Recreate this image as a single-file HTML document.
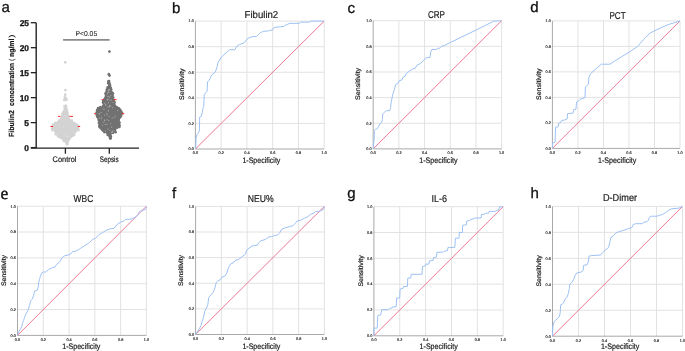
<!DOCTYPE html>
<html><head><meta charset="utf-8"><style>
html,body{margin:0;padding:0;background:#fff;width:685px;height:351px;overflow:hidden}
.t{fill:#1a1a1a;stroke:#1a1a1a;stroke-width:0.2px}
.t2{fill:#2a2a2a;stroke:#2a2a2a;stroke-width:0.08px}
svg{display:block;transform:translateZ(0);text-rendering:geometricPrecision;font-family:"Liberation Sans", sans-serif}
</style></head><body>
<svg width="685" height="351" viewBox="0 0 685 351" font-family='"Liberation Sans", sans-serif'><path d="M221.16 21.1V149M195.4 123.42H324.2M246.92 21.1V149M195.4 97.84H324.2M272.68 21.1V149M195.4 72.26H324.2M298.44 21.1V149M195.4 46.68H324.2M324.2 21.1V149M195.4 21.1H324.2" stroke="#e2e2e2" stroke-width="1" fill="none"/>
<path d="M195.4 21.1V149H324.2" stroke="#a9a9a9" stroke-width="1" fill="none"/>
<path d="M195.4 149L324.2 21.1" stroke="#ee7895" stroke-width="1" fill="none"/>
<path d="M195.7 149 L196.1 138.4 L196.8 134.9 L198 133.4 L199 132 L199.4 129.9 L199.7 117 L200.8 116.4 L201.4 116.4 L201.8 114.2 L202.3 112.1 L202.8 110 L203.2 107.8 L203.7 106.4 L204 100 L204.2 94.8 L205.4 93.1 L207.1 91.3 L207.5 82 L208.9 80.6 L210.4 77.8 L211.8 74.9 L215.3 72.1 L216.8 67.8 L218.2 62.1 L219.6 60 L221 57.6 L223 55.5 L227.2 51.8 L229.7 49.7 L234.9 49.7 L236.8 46.3 L239.4 44.6 L243.8 43.1 L247 39.2 L248.3 38.2 L252.2 36.7 L256.7 36.4 L260.5 32.6 L263.7 31.3 L268.5 30.9 L269.8 30.3 L272.4 30.1 L274.2 27.4 L280.3 26.8 L283.8 26.4 L285.6 25.1 L287.8 24.2 L290 23.3 L299.6 23.3 L300.9 22.2 L310.1 22 L311 21.1 L324.2 21.1" stroke="#9dc1f4" stroke-width="1" fill="none" stroke-linejoin="round"/>
<text x="193.8" y="150.3" font-size="3.8" text-anchor="end" fill="#333" stroke="#333" stroke-width="0.18">0.0</text>
<text x="195.4" y="154.4" font-size="3.8" text-anchor="middle" fill="#333" stroke="#333" stroke-width="0.18">0.0</text>
<text x="193.8" y="124.72" font-size="3.8" text-anchor="end" fill="#333" stroke="#333" stroke-width="0.18">0.2</text>
<text x="221.16" y="154.4" font-size="3.8" text-anchor="middle" fill="#333" stroke="#333" stroke-width="0.18">0.2</text>
<text x="193.8" y="99.14" font-size="3.8" text-anchor="end" fill="#333" stroke="#333" stroke-width="0.18">0.4</text>
<text x="246.92" y="154.4" font-size="3.8" text-anchor="middle" fill="#333" stroke="#333" stroke-width="0.18">0.4</text>
<text x="193.8" y="73.56" font-size="3.8" text-anchor="end" fill="#333" stroke="#333" stroke-width="0.18">0.6</text>
<text x="272.68" y="154.4" font-size="3.8" text-anchor="middle" fill="#333" stroke="#333" stroke-width="0.18">0.6</text>
<text x="193.8" y="47.98" font-size="3.8" text-anchor="end" fill="#333" stroke="#333" stroke-width="0.18">0.8</text>
<text x="298.44" y="154.4" font-size="3.8" text-anchor="middle" fill="#333" stroke="#333" stroke-width="0.18">0.8</text>
<text x="193.8" y="22.4" font-size="3.8" text-anchor="end" fill="#333" stroke="#333" stroke-width="0.18">1.0</text>
<text x="324.2" y="154.4" font-size="3.8" text-anchor="middle" fill="#333" stroke="#333" stroke-width="0.18">1.0</text>
<text x="244.6" y="18.2" font-size="10" textLength="33.6" lengthAdjust="spacingAndGlyphs" class="t">Fibulin2</text>
<text x="242.4" y="163.1" font-size="8" textLength="38" lengthAdjust="spacingAndGlyphs" class="t">1-Specificity</text>
<text transform="translate(184 100) rotate(-90)" font-size="6.6" textLength="31.6" lengthAdjust="spacingAndGlyphs" class="t">Sensitivity</text>
<path d="M398.88 20.7V148.9M373.2 123.26H501.6M424.56 20.7V148.9M373.2 97.62H501.6M450.24 20.7V148.9M373.2 71.98H501.6M475.92 20.7V148.9M373.2 46.34H501.6M501.6 20.7V148.9M373.2 20.7H501.6" stroke="#e2e2e2" stroke-width="1" fill="none"/>
<path d="M373.2 20.7V148.9H501.6" stroke="#a9a9a9" stroke-width="1" fill="none"/>
<path d="M373.2 148.9L501.6 20.7" stroke="#ee7895" stroke-width="1" fill="none"/>
<path d="M373.4 149 L373.7 142.4 L374.2 139.3 L374.3 130.3 L375.5 129.4 L376.9 129.2 L377.9 127.7 L379.5 125 L380.7 122.8 L381.8 122.2 L382.4 119.7 L382.8 113.8 L384.3 112.3 L386.4 110.7 L389.8 110.7 L390.6 107.5 L391.1 102.1 L391.7 99.7 L392.7 94.7 L394.4 89.6 L395.6 84.4 L397.8 83.6 L399 81 L402.1 79.7 L402.9 77.3 L405.2 76.2 L406.4 73.3 L409.8 70.8 L412.4 69.1 L415.4 68.2 L416.6 65.6 L420.9 63.1 L423.5 60.5 L425.2 58.5 L427.1 57.5 L430 57.5 L430.6 52.1 L431.8 49.6 L436.8 49.3 L437.8 48.2 L439.6 48.2 L441.4 46.4 L444.2 45.5 L450.3 42.5 L476.5 29.8 L493.6 21.3 L501.6 20.7" stroke="#9dc1f4" stroke-width="1" fill="none" stroke-linejoin="round"/>
<text x="371.6" y="150.2" font-size="3.8" text-anchor="end" fill="#333" stroke="#333" stroke-width="0.18">0.0</text>
<text x="373.2" y="154.3" font-size="3.8" text-anchor="middle" fill="#333" stroke="#333" stroke-width="0.18">0.0</text>
<text x="371.6" y="124.56" font-size="3.8" text-anchor="end" fill="#333" stroke="#333" stroke-width="0.18">0.2</text>
<text x="398.88" y="154.3" font-size="3.8" text-anchor="middle" fill="#333" stroke="#333" stroke-width="0.18">0.2</text>
<text x="371.6" y="98.92" font-size="3.8" text-anchor="end" fill="#333" stroke="#333" stroke-width="0.18">0.4</text>
<text x="424.56" y="154.3" font-size="3.8" text-anchor="middle" fill="#333" stroke="#333" stroke-width="0.18">0.4</text>
<text x="371.6" y="73.28" font-size="3.8" text-anchor="end" fill="#333" stroke="#333" stroke-width="0.18">0.6</text>
<text x="450.24" y="154.3" font-size="3.8" text-anchor="middle" fill="#333" stroke="#333" stroke-width="0.18">0.6</text>
<text x="371.6" y="47.64" font-size="3.8" text-anchor="end" fill="#333" stroke="#333" stroke-width="0.18">0.8</text>
<text x="475.92" y="154.3" font-size="3.8" text-anchor="middle" fill="#333" stroke="#333" stroke-width="0.18">0.8</text>
<text x="371.6" y="22" font-size="3.8" text-anchor="end" fill="#333" stroke="#333" stroke-width="0.18">1.0</text>
<text x="501.6" y="154.3" font-size="3.8" text-anchor="middle" fill="#333" stroke="#333" stroke-width="0.18">1.0</text>
<text x="427.9" y="18.2" font-size="10" textLength="17" lengthAdjust="spacingAndGlyphs" class="t">CRP</text>
<text x="419.2" y="163" font-size="8" textLength="38.3" lengthAdjust="spacingAndGlyphs" class="t">1-Specificity</text>
<text transform="translate(360.4 100) rotate(-90)" font-size="6.6" textLength="32.2" lengthAdjust="spacingAndGlyphs" class="t">Sensitivity</text>
<path d="M577.92 20.9V148.4M552.4 122.9H680M603.44 20.9V148.4M552.4 97.4H680M628.96 20.9V148.4M552.4 71.9H680M654.48 20.9V148.4M552.4 46.4H680M680 20.9V148.4M552.4 20.9H680" stroke="#e2e2e2" stroke-width="1" fill="none"/>
<path d="M552.4 20.9V148.4H680" stroke="#a9a9a9" stroke-width="1" fill="none"/>
<path d="M552.4 148.4L680 20.9" stroke="#ee7895" stroke-width="1" fill="none"/>
<path d="M552.4 148.4 L552.6 143.1 L555.1 142.2 L555.5 127.3 L558.2 126.8 L558.6 123.4 L560.6 122.5 L561.6 120.5 L564.6 120 L567.1 119.1 L567.6 113.6 L573.1 113.1 L573.6 109.7 L576 109.2 L576.5 102 L578.3 101.1 L580 99.4 L585 97.7 L585.4 87 L587.1 85.3 L588.5 84.2 L588.8 77.8 L590 74.9 L592.1 72.1 L597.1 67.8 L601.4 64.2 L609.9 64.2 L614.2 61.4 L619.9 57.8 L629 52.2 L637.3 46.8 L643.7 39.4 L650.1 33 L654 31 L661 27.8 L668.1 24.6 L673.8 22.9 L680 20.9" stroke="#9dc1f4" stroke-width="1" fill="none" stroke-linejoin="round"/>
<text x="550.8" y="149.7" font-size="3.8" text-anchor="end" fill="#333" stroke="#333" stroke-width="0.18">0.0</text>
<text x="552.4" y="153.8" font-size="3.8" text-anchor="middle" fill="#333" stroke="#333" stroke-width="0.18">0.0</text>
<text x="550.8" y="124.2" font-size="3.8" text-anchor="end" fill="#333" stroke="#333" stroke-width="0.18">0.2</text>
<text x="577.92" y="153.8" font-size="3.8" text-anchor="middle" fill="#333" stroke="#333" stroke-width="0.18">0.2</text>
<text x="550.8" y="98.7" font-size="3.8" text-anchor="end" fill="#333" stroke="#333" stroke-width="0.18">0.4</text>
<text x="603.44" y="153.8" font-size="3.8" text-anchor="middle" fill="#333" stroke="#333" stroke-width="0.18">0.4</text>
<text x="550.8" y="73.2" font-size="3.8" text-anchor="end" fill="#333" stroke="#333" stroke-width="0.18">0.6</text>
<text x="628.96" y="153.8" font-size="3.8" text-anchor="middle" fill="#333" stroke="#333" stroke-width="0.18">0.6</text>
<text x="550.8" y="47.7" font-size="3.8" text-anchor="end" fill="#333" stroke="#333" stroke-width="0.18">0.8</text>
<text x="654.48" y="153.8" font-size="3.8" text-anchor="middle" fill="#333" stroke="#333" stroke-width="0.18">0.8</text>
<text x="550.8" y="22.2" font-size="3.8" text-anchor="end" fill="#333" stroke="#333" stroke-width="0.18">1.0</text>
<text x="680" y="153.8" font-size="3.8" text-anchor="middle" fill="#333" stroke="#333" stroke-width="0.18">1.0</text>
<text x="609.4" y="19" font-size="10" textLength="16.2" lengthAdjust="spacingAndGlyphs" class="t">PCT</text>
<text x="598" y="163" font-size="8" textLength="38.4" lengthAdjust="spacingAndGlyphs" class="t">1-Specificity</text>
<text transform="translate(541.3 100) rotate(-90)" font-size="6.6" textLength="31.6" lengthAdjust="spacingAndGlyphs" class="t">Sensitivity</text>
<path d="M43.28 206.2V335.4M17.5 309.56H146.4M69.06 206.2V335.4M17.5 283.72H146.4M94.84 206.2V335.4M17.5 257.88H146.4M120.62 206.2V335.4M17.5 232.04H146.4M146.4 206.2V335.4M17.5 206.2H146.4" stroke="#e2e2e2" stroke-width="1" fill="none"/>
<path d="M17.5 206.2V335.4H146.4" stroke="#a9a9a9" stroke-width="1" fill="none"/>
<path d="M17.5 335.4L146.4 206.2" stroke="#ee7895" stroke-width="1" fill="none"/>
<path d="M17.5 335.4 L19.1 331.2 L20.8 328.3 L21.9 326.3 L22.4 323.3 L23.6 320.5 L24.6 317.2 L25.7 314.7 L26.9 312.2 L28.2 309.8 L29.5 305.6 L30.7 300.7 L32.4 299 L33.5 295.7 L34.5 291.2 L37.3 290.2 L38.3 286.6 L38.6 283 L39.4 279.6 L40.4 276.3 L41.8 273 L42.8 272 L45.7 272 L48.5 269.6 L52.1 267.8 L54.9 267.1 L56.4 264.5 L58.5 263.1 L60.6 260.7 L61.8 257.8 L64.9 255.7 L68.5 255 L71.3 253.5 L72.3 251.7 L75.6 251.1 L78.4 249.7 L80.6 248.3 L84.7 245.7 L89.4 242.6 L92.5 239.4 L95.6 238.3 L98.8 234.7 L102.7 232.6 L105.8 230.5 L109.7 229 L114.1 228.2 L116.8 224.7 L120.7 222.2 L123.8 221.1 L125.4 219.4 L131.1 219.2 L132.8 218.2 L136.4 216.7 L137.8 215 L138.9 212.5 L140.3 211 L142.1 210.3 L143.9 210 L145.7 209.3 L146.4 208.2 L146.4 206.2" stroke="#9dc1f4" stroke-width="1" fill="none" stroke-linejoin="round"/>
<text x="15.9" y="336.7" font-size="3.8" text-anchor="end" fill="#333" stroke="#333" stroke-width="0.18">0.0</text>
<text x="17.5" y="340.8" font-size="3.8" text-anchor="middle" fill="#333" stroke="#333" stroke-width="0.18">0.0</text>
<text x="15.9" y="310.86" font-size="3.8" text-anchor="end" fill="#333" stroke="#333" stroke-width="0.18">0.2</text>
<text x="43.28" y="340.8" font-size="3.8" text-anchor="middle" fill="#333" stroke="#333" stroke-width="0.18">0.2</text>
<text x="15.9" y="285.02" font-size="3.8" text-anchor="end" fill="#333" stroke="#333" stroke-width="0.18">0.4</text>
<text x="69.06" y="340.8" font-size="3.8" text-anchor="middle" fill="#333" stroke="#333" stroke-width="0.18">0.4</text>
<text x="15.9" y="259.18" font-size="3.8" text-anchor="end" fill="#333" stroke="#333" stroke-width="0.18">0.6</text>
<text x="94.84" y="340.8" font-size="3.8" text-anchor="middle" fill="#333" stroke="#333" stroke-width="0.18">0.6</text>
<text x="15.9" y="233.34" font-size="3.8" text-anchor="end" fill="#333" stroke="#333" stroke-width="0.18">0.8</text>
<text x="120.62" y="340.8" font-size="3.8" text-anchor="middle" fill="#333" stroke="#333" stroke-width="0.18">0.8</text>
<text x="15.9" y="207.5" font-size="3.8" text-anchor="end" fill="#333" stroke="#333" stroke-width="0.18">1.0</text>
<text x="146.4" y="340.8" font-size="3.8" text-anchor="middle" fill="#333" stroke="#333" stroke-width="0.18">1.0</text>
<text x="73.6" y="201.6" font-size="10" textLength="19.7" lengthAdjust="spacingAndGlyphs" class="t">WBC</text>
<text x="62.2" y="348.9" font-size="8" textLength="38.2" lengthAdjust="spacingAndGlyphs" class="t">1-Specificity</text>
<text transform="translate(5.5 286) rotate(-90)" font-size="6.6" textLength="31" lengthAdjust="spacingAndGlyphs" class="t">Sensitivity</text>
<path d="M221.36 206.4V334.5M195.6 308.88H324.4M247.12 206.4V334.5M195.6 283.26H324.4M272.88 206.4V334.5M195.6 257.64H324.4M298.64 206.4V334.5M195.6 232.02H324.4M324.4 206.4V334.5M195.6 206.4H324.4" stroke="#e2e2e2" stroke-width="1" fill="none"/>
<path d="M195.6 206.4V334.5H324.4" stroke="#a9a9a9" stroke-width="1" fill="none"/>
<path d="M195.6 334.5L324.4 206.4" stroke="#ee7895" stroke-width="1" fill="none"/>
<path d="M195.6 334.5 L197.8 331.1 L199.7 328.2 L201 325.3 L202.2 321.5 L203.5 317.3 L204.8 311 L206.4 308.2 L207.9 304.4 L208.6 297.7 L211.1 294.8 L213 292.5 L214.9 288.1 L216.3 282.4 L217.8 281.1 L220.7 279.5 L221.7 277.1 L224.8 276.3 L226.8 272.9 L228.5 267.7 L230.6 264 L233.7 262.6 L235 260.6 L238.8 259.2 L242.2 256.6 L245.6 254.1 L246.5 250.3 L249.1 248.1 L252.5 245.9 L257.3 245.2 L258.5 243 L261 240.7 L265.3 239.5 L268.2 237.3 L271.3 236.6 L274.7 235.6 L277.7 234.9 L279.6 233.1 L281.5 229.5 L284.1 228.2 L289.2 226.7 L293.1 225.6 L295.6 223.1 L296.9 221.2 L300.8 220.3 L304.6 218 L307.8 216.7 L310.4 214.4 L314.2 212.8 L315.5 211.5 L319.4 211.3 L322.6 210 L323.8 208.7 L324.4 206.4" stroke="#9dc1f4" stroke-width="1" fill="none" stroke-linejoin="round"/>
<text x="194" y="335.8" font-size="3.8" text-anchor="end" fill="#333" stroke="#333" stroke-width="0.18">0.0</text>
<text x="195.6" y="339.9" font-size="3.8" text-anchor="middle" fill="#333" stroke="#333" stroke-width="0.18">0.0</text>
<text x="194" y="310.18" font-size="3.8" text-anchor="end" fill="#333" stroke="#333" stroke-width="0.18">0.2</text>
<text x="221.36" y="339.9" font-size="3.8" text-anchor="middle" fill="#333" stroke="#333" stroke-width="0.18">0.2</text>
<text x="194" y="284.56" font-size="3.8" text-anchor="end" fill="#333" stroke="#333" stroke-width="0.18">0.4</text>
<text x="247.12" y="339.9" font-size="3.8" text-anchor="middle" fill="#333" stroke="#333" stroke-width="0.18">0.4</text>
<text x="194" y="258.94" font-size="3.8" text-anchor="end" fill="#333" stroke="#333" stroke-width="0.18">0.6</text>
<text x="272.88" y="339.9" font-size="3.8" text-anchor="middle" fill="#333" stroke="#333" stroke-width="0.18">0.6</text>
<text x="194" y="233.32" font-size="3.8" text-anchor="end" fill="#333" stroke="#333" stroke-width="0.18">0.8</text>
<text x="298.64" y="339.9" font-size="3.8" text-anchor="middle" fill="#333" stroke="#333" stroke-width="0.18">0.8</text>
<text x="194" y="207.7" font-size="3.8" text-anchor="end" fill="#333" stroke="#333" stroke-width="0.18">1.0</text>
<text x="324.4" y="339.9" font-size="3.8" text-anchor="middle" fill="#333" stroke="#333" stroke-width="0.18">1.0</text>
<text x="247.8" y="202.1" font-size="10" textLength="25.9" lengthAdjust="spacingAndGlyphs" class="t">NEU%</text>
<text x="242.4" y="348.7" font-size="8" textLength="38" lengthAdjust="spacingAndGlyphs" class="t">1-Specificity</text>
<text transform="translate(183.15 286) rotate(-90)" font-size="6.6" textLength="31" lengthAdjust="spacingAndGlyphs" class="t">Sensitivity</text>
<path d="M399.76 206.7V335.8M373.9 309.98H503.2M425.62 206.7V335.8M373.9 284.16H503.2M451.48 206.7V335.8M373.9 258.34H503.2M477.34 206.7V335.8M373.9 232.52H503.2M503.2 206.7V335.8M373.9 206.7H503.2" stroke="#e2e2e2" stroke-width="1" fill="none"/>
<path d="M373.9 206.7V335.8H503.2" stroke="#a9a9a9" stroke-width="1" fill="none"/>
<path d="M373.9 335.8L503.2 206.7" stroke="#ee7895" stroke-width="1" fill="none"/>
<path d="M373.9 335.8 L373.9 328.1 L377.2 328.1 L377.8 315.5 L380.7 315 L381.7 309.7 L388.4 309.7 L389.4 308.4 L392.3 307.8 L392.7 306.8 L396.2 306.8 L396.6 298.1 L399.7 298.1 L400.1 289 L403 288.4 L403.6 286.5 L407.4 286.5 L407.8 278.1 L410.7 278.1 L411.3 274.3 L422 274.3 L422.4 266.5 L425.2 265.9 L425.7 264.1 L428.9 264.1 L429.4 260.9 L433.1 260.4 L433.5 257.6 L436.3 257.2 L436.9 252.4 L443.7 252 L444.6 251.1 L447.4 250.6 L448 247.4 L454.8 247.4 L455.4 238.1 L459 238.2 L459.3 232.5 L462.4 232.5 L462.7 225.3 L466.4 224.8 L466.7 221.1 L469.8 220.5 L470.4 219.4 L473.8 218.8 L474.4 218 L481.2 218 L481.4 214.6 L484.6 214.2 L485.2 213.4 L488.6 213.1 L489.2 211.4 L495.4 211.4 L496 210.5 L498.8 210 L499.4 206.8 L503.2 206.7" stroke="#9dc1f4" stroke-width="1" fill="none" stroke-linejoin="round"/>
<text x="372.3" y="337.1" font-size="3.8" text-anchor="end" fill="#333" stroke="#333" stroke-width="0.18">0.0</text>
<text x="373.9" y="341.2" font-size="3.8" text-anchor="middle" fill="#333" stroke="#333" stroke-width="0.18">0.0</text>
<text x="372.3" y="311.28" font-size="3.8" text-anchor="end" fill="#333" stroke="#333" stroke-width="0.18">0.2</text>
<text x="399.76" y="341.2" font-size="3.8" text-anchor="middle" fill="#333" stroke="#333" stroke-width="0.18">0.2</text>
<text x="372.3" y="285.46" font-size="3.8" text-anchor="end" fill="#333" stroke="#333" stroke-width="0.18">0.4</text>
<text x="425.62" y="341.2" font-size="3.8" text-anchor="middle" fill="#333" stroke="#333" stroke-width="0.18">0.4</text>
<text x="372.3" y="259.64" font-size="3.8" text-anchor="end" fill="#333" stroke="#333" stroke-width="0.18">0.6</text>
<text x="451.48" y="341.2" font-size="3.8" text-anchor="middle" fill="#333" stroke="#333" stroke-width="0.18">0.6</text>
<text x="372.3" y="233.82" font-size="3.8" text-anchor="end" fill="#333" stroke="#333" stroke-width="0.18">0.8</text>
<text x="477.34" y="341.2" font-size="3.8" text-anchor="middle" fill="#333" stroke="#333" stroke-width="0.18">0.8</text>
<text x="372.3" y="208" font-size="3.8" text-anchor="end" fill="#333" stroke="#333" stroke-width="0.18">1.0</text>
<text x="503.2" y="341.2" font-size="3.8" text-anchor="middle" fill="#333" stroke="#333" stroke-width="0.18">1.0</text>
<text x="431.4" y="202.1" font-size="10" textLength="15.5" lengthAdjust="spacingAndGlyphs" class="t">IL-6</text>
<text x="419.6" y="348.9" font-size="8" textLength="38.2" lengthAdjust="spacingAndGlyphs" class="t">1-Specificity</text>
<text transform="translate(362.65 286.6) rotate(-90)" font-size="6.6" textLength="31.3" lengthAdjust="spacingAndGlyphs" class="t">Sensitivity</text>
<path d="M578.5 206.4V336.2M552.5 310.24H682.5M604.5 206.4V336.2M552.5 284.28H682.5M630.5 206.4V336.2M552.5 258.32H682.5M656.5 206.4V336.2M552.5 232.36H682.5M682.5 206.4V336.2M552.5 206.4H682.5" stroke="#e2e2e2" stroke-width="1" fill="none"/>
<path d="M552.5 206.4V336.2H682.5" stroke="#a9a9a9" stroke-width="1" fill="none"/>
<path d="M552.5 336.2L682.5 206.4" stroke="#ee7895" stroke-width="1" fill="none"/>
<path d="M552.5 336.2 L552.9 326.2 L554.3 321.4 L555.8 320 L557.8 318.4 L559.3 316.5 L560.1 313.6 L560.7 304.9 L562.6 303.9 L564 302 L565.1 299.1 L567.1 297.1 L568.4 293.3 L569.4 288.4 L569.8 284 L571.7 282.6 L573.6 279.7 L574.8 275.8 L576.7 273 L581 272.1 L583.2 270.4 L583.5 265.3 L587 264.8 L588.3 261.9 L589 256.2 L591.2 255.6 L600.6 255 L602.4 252.8 L604.9 250.4 L607.1 248.7 L608.8 247 L610 241.4 L611.2 237.1 L613.5 235.7 L616 232.8 L619.1 231.6 L623.7 230.3 L628.4 228.7 L631.8 227.6 L633.2 224.5 L635.8 223.7 L642.1 223.7 L643.8 222.2 L647.2 221.7 L648.4 220.3 L649.5 217.1 L651.2 216.2 L656.9 216.2 L659.2 215.4 L662.1 214.6 L664.3 213.5 L667.2 211.4 L670 209.4 L672.9 208.6 L678.6 208.2 L682 206.8 L682.5 206.4" stroke="#9dc1f4" stroke-width="1" fill="none" stroke-linejoin="round"/>
<text x="550.9" y="337.5" font-size="3.8" text-anchor="end" fill="#333" stroke="#333" stroke-width="0.18">0.0</text>
<text x="552.5" y="341.6" font-size="3.8" text-anchor="middle" fill="#333" stroke="#333" stroke-width="0.18">0.0</text>
<text x="550.9" y="311.54" font-size="3.8" text-anchor="end" fill="#333" stroke="#333" stroke-width="0.18">0.2</text>
<text x="578.5" y="341.6" font-size="3.8" text-anchor="middle" fill="#333" stroke="#333" stroke-width="0.18">0.2</text>
<text x="550.9" y="285.58" font-size="3.8" text-anchor="end" fill="#333" stroke="#333" stroke-width="0.18">0.4</text>
<text x="604.5" y="341.6" font-size="3.8" text-anchor="middle" fill="#333" stroke="#333" stroke-width="0.18">0.4</text>
<text x="550.9" y="259.62" font-size="3.8" text-anchor="end" fill="#333" stroke="#333" stroke-width="0.18">0.6</text>
<text x="630.5" y="341.6" font-size="3.8" text-anchor="middle" fill="#333" stroke="#333" stroke-width="0.18">0.6</text>
<text x="550.9" y="233.66" font-size="3.8" text-anchor="end" fill="#333" stroke="#333" stroke-width="0.18">0.8</text>
<text x="656.5" y="341.6" font-size="3.8" text-anchor="middle" fill="#333" stroke="#333" stroke-width="0.18">0.8</text>
<text x="550.9" y="207.7" font-size="3.8" text-anchor="end" fill="#333" stroke="#333" stroke-width="0.18">1.0</text>
<text x="682.5" y="341.6" font-size="3.8" text-anchor="middle" fill="#333" stroke="#333" stroke-width="0.18">1.0</text>
<text x="602.9" y="201.3" font-size="10" textLength="34.2" lengthAdjust="spacingAndGlyphs" class="t">D-Dimer</text>
<text x="600.9" y="348.7" font-size="8" textLength="38.4" lengthAdjust="spacingAndGlyphs" class="t">1-Specificity</text>
<text transform="translate(541.3 286.6) rotate(-90)" font-size="6.6" textLength="31.3" lengthAdjust="spacingAndGlyphs" class="t">Sensitivity</text>
<text x="1.4" y="11.9" font-size="15" fill="#111" stroke="#111" stroke-width="0.3">a</text>
<text x="172" y="12.5" font-size="15" fill="#111" stroke="#111" stroke-width="0.3">b</text>
<text x="347.4" y="12.5" font-size="15" fill="#111" stroke="#111" stroke-width="0.3">c</text>
<text x="530.2" y="12.2" font-size="15" fill="#111" stroke="#111" stroke-width="0.3">d</text>
<text x="0.6" y="199.4" font-size="17.5" font-family="Liberation Serif, serif" fill="#111" stroke="#111" stroke-width="0.35">e</text>
<text x="172.1" y="198.2" font-size="15" fill="#111" stroke="#111" stroke-width="0.3">f</text>
<text x="347.2" y="198.3" font-size="15" fill="#111" stroke="#111" stroke-width="0.3">g</text>
<text x="530.4" y="198.2" font-size="15" fill="#111" stroke="#111" stroke-width="0.3">h</text>
<path d="M36.2 22.7V148.1" stroke="#222" stroke-width="1.4" fill="none"/>
<path d="M30.8 148.1H139" stroke="#222" stroke-width="1.4" fill="none"/>
<path d="M30.8 147.6H36.2" stroke="#222" stroke-width="1.3" fill="none"/>
<text x="29" y="150.6" font-size="8.4" font-weight="bold" text-anchor="end" fill="#111" stroke="#111" stroke-width="0.3">0</text>
<path d="M30.8 122.62H36.2" stroke="#222" stroke-width="1.3" fill="none"/>
<text x="29" y="125.62" font-size="8.4" font-weight="bold" text-anchor="end" fill="#111" stroke="#111" stroke-width="0.3">5</text>
<path d="M30.8 97.64H36.2" stroke="#222" stroke-width="1.3" fill="none"/>
<text x="29" y="100.64" font-size="8.4" font-weight="bold" text-anchor="end" fill="#111" stroke="#111" stroke-width="0.3">10</text>
<path d="M30.8 72.66H36.2" stroke="#222" stroke-width="1.3" fill="none"/>
<text x="29" y="75.66" font-size="8.4" font-weight="bold" text-anchor="end" fill="#111" stroke="#111" stroke-width="0.3">15</text>
<path d="M30.8 47.68H36.2" stroke="#222" stroke-width="1.3" fill="none"/>
<text x="29" y="50.68" font-size="8.4" font-weight="bold" text-anchor="end" fill="#111" stroke="#111" stroke-width="0.3">20</text>
<path d="M30.8 22.7H36.2" stroke="#222" stroke-width="1.3" fill="none"/>
<text x="29" y="25.7" font-size="8.4" font-weight="bold" text-anchor="end" fill="#111" stroke="#111" stroke-width="0.3">25</text>
<path d="M65.4 148.1V153.7" stroke="#222" stroke-width="1.3" fill="none"/>
<path d="M109.3 148.1V153.7" stroke="#222" stroke-width="1.3" fill="none"/>
<text x="52.6" y="162.4" font-size="8" textLength="23.8" lengthAdjust="spacingAndGlyphs" class="t">Control</text>
<text x="99.8" y="162.4" font-size="8" textLength="18.8" lengthAdjust="spacingAndGlyphs" class="t">Sepsis</text>
<path d="M63.1 39.9H109.6" stroke="#8a8a8a" stroke-width="1.6" fill="none"/>
<text x="75.4" y="35.9" font-size="7" textLength="21.8" lengthAdjust="spacingAndGlyphs" class="t2">P&lt;0.05</text>
<text transform="translate(14.4 137) rotate(-90)" font-size="7.4" font-weight="bold" textLength="26.8" lengthAdjust="spacingAndGlyphs" fill="#111" stroke="#111" stroke-width="0.15">Fibulin2</text>
<text transform="translate(14.4 105.9) rotate(-90)" font-size="7.4" font-weight="bold" textLength="43" lengthAdjust="spacingAndGlyphs" fill="#111" stroke="#111" stroke-width="0.15">concentration</text>
<text transform="translate(14.4 60.9) rotate(-90)" font-size="7.4" font-weight="normal" textLength="2.4" lengthAdjust="spacingAndGlyphs" fill="#111" stroke="#111" stroke-width="0">(</text>
<text transform="translate(14.4 57.1) rotate(-90)" font-size="7.4" font-weight="bold" textLength="18.6" lengthAdjust="spacingAndGlyphs" fill="#111" stroke="#111" stroke-width="0.15">ng/ml</text>
<text transform="translate(14.4 37.9) rotate(-90)" font-size="7.4" font-weight="normal" textLength="3.7" lengthAdjust="spacingAndGlyphs" fill="#111" stroke="#111" stroke-width="0">)</text>
<g fill="#d3d3d3"><path d="M64.2 105.8 L64 108.2 L64 110.3 L62.6 112.3 L62 114.4 L61.3 116.4 L60.9 118.5 L58.5 120.5 L56.1 122.6 L54.4 123.4 L52.7 124.7 L51.7 126.5 L51.7 128.8 L52 130.2 L54.8 131.6 L55.4 134.4 L57.5 135.7 L58.2 137 L61.6 138.4 L62.6 139.8 L63.7 141.2 L65.7 142.6 L66.4 144 L67.3 144 L67.9 142.6 L67.9 141.2 L69.3 139.8 L70 138.4 L71.4 137 L73.4 135.7 L74.8 134.4 L76.2 131.6 L78.6 130.2 L78.9 128.8 L78.9 126.5 L77.5 124.7 L75.5 123.4 L73.8 122.6 L72.1 120.5 L69.3 118.5 L69 116.4 L68.3 114.4 L67.9 112.3 L67.3 110.3 L66.9 108.2 L66.4 105.8Z"/><circle cx="64.57" cy="106.01" r="1.35"/><circle cx="64.68" cy="108.05" r="1.35"/><circle cx="64.55" cy="110.27" r="1.35"/><circle cx="63.23" cy="112.47" r="1.35"/><circle cx="62.35" cy="114.12" r="1.35"/><circle cx="62.02" cy="116.36" r="1.35"/><circle cx="61.58" cy="118.2" r="1.35"/><circle cx="59.02" cy="120.63" r="1.35"/><circle cx="56.51" cy="122.87" r="1.35"/><circle cx="55.15" cy="123.12" r="1.35"/><circle cx="53.01" cy="124.72" r="1.35"/><circle cx="52.47" cy="126.43" r="1.35"/><circle cx="52.11" cy="128.75" r="1.35"/><circle cx="52.31" cy="130.03" r="1.35"/><circle cx="55.32" cy="131.6" r="1.35"/><circle cx="55.82" cy="134.24" r="1.35"/><circle cx="57.91" cy="135.68" r="1.35"/><circle cx="58.64" cy="136.71" r="1.35"/><circle cx="60.62" cy="137.73" r="1.35"/><circle cx="62.22" cy="138.21" r="1.35"/><circle cx="63.4" cy="140.02" r="1.35"/><circle cx="64.06" cy="141.1" r="1.35"/><circle cx="66.36" cy="142.73" r="1.35"/><circle cx="67.17" cy="143.95" r="1.35"/><circle cx="66.02" cy="105.9" r="1.35"/><circle cx="66.25" cy="108.25" r="1.35"/><circle cx="66.94" cy="110.51" r="1.35"/><circle cx="67.35" cy="112.35" r="1.35"/><circle cx="67.52" cy="114.25" r="1.35"/><circle cx="68.6" cy="116.35" r="1.35"/><circle cx="68.59" cy="118.53" r="1.35"/><circle cx="71.65" cy="120.6" r="1.35"/><circle cx="73.19" cy="122.56" r="1.35"/><circle cx="74.95" cy="123.57" r="1.35"/><circle cx="76.96" cy="124.64" r="1.35"/><circle cx="78.34" cy="126.22" r="1.35"/><circle cx="78.12" cy="128.92" r="1.35"/><circle cx="78.29" cy="130.26" r="1.35"/><circle cx="75.6" cy="131.4" r="1.35"/><circle cx="74.25" cy="134.69" r="1.35"/><circle cx="72.99" cy="135.72" r="1.35"/><circle cx="71.03" cy="136.84" r="1.35"/><circle cx="69.46" cy="138.67" r="1.35"/><circle cx="68.79" cy="139.78" r="1.35"/><circle cx="67.23" cy="141.23" r="1.35"/><circle cx="67.58" cy="142.3" r="1.35"/><circle cx="66.89" cy="144.19" r="1.35"/><circle cx="65.3" cy="106.85" r="1.35"/><circle cx="66.85" cy="142.95" r="1.35"/><circle cx="65.2" cy="62.3" r="1.35"/><circle cx="65.4" cy="90.1" r="1.35"/><circle cx="65.2" cy="94.7" r="1.35"/><circle cx="64.9" cy="97.3" r="1.35"/><circle cx="65.9" cy="98.3" r="1.35"/><circle cx="64.2" cy="99.9" r="1.35"/><circle cx="66.3" cy="99.9" r="1.35"/></g>
<g fill="#eee" opacity="0.7"><circle cx="67.5" cy="136.56" r="0.55"/><circle cx="65.42" cy="134.24" r="0.55"/><circle cx="63.57" cy="126.75" r="0.55"/><circle cx="66.06" cy="136.07" r="0.55"/><circle cx="65.17" cy="115.84" r="0.55"/></g>
<g fill="#717171"><path d="M107.7 81 L108 83.5 L108.7 85.5 L107 87.5 L106.3 89.5 L106 91.6 L104.9 93.6 L105.3 95.7 L104.6 97.7 L103.9 99.6 L102.9 101.4 L102.5 102.7 L102.9 105.5 L102.2 106.8 L97.7 108.2 L96.7 109.6 L96.4 111 L96 112.3 L96 113.7 L96.4 115.1 L96.7 116.4 L97.4 117.8 L98.1 119.2 L98.4 120.6 L98.4 122.7 L98.8 125.5 L99.1 126.8 L100.1 128.2 L101.5 129.6 L104.2 132.3 L107 133.4 L107 135.1 L109 136.4 L109.4 138.3 L110.9 138.3 L111.3 136.4 L110.6 135.1 L111.4 133.4 L116.1 132.3 L115.7 129.6 L115.4 128.2 L119.8 126.8 L120.2 125.5 L120.2 122.7 L119.1 120.6 L119.5 119.2 L120.2 117.8 L121.5 116.4 L121.5 115.1 L122.7 113.7 L122.2 112.3 L121.5 111 L120.9 109.6 L119.5 108.2 L116.1 106.8 L115.7 105.5 L115 102.7 L114.7 101.4 L114 99.6 L113.7 97.7 L113 95.7 L113.3 93.6 L111.9 91.6 L111.6 89.5 L111.3 87.5 L110.6 85.5 L109.9 83.5 L109.6 81Z"/><circle cx="108.48" cy="81.27" r="1.35"/><circle cx="108.33" cy="83.25" r="1.35"/><circle cx="109.42" cy="85.64" r="1.35"/><circle cx="107.63" cy="87.38" r="1.35"/><circle cx="106.9" cy="89.56" r="1.35"/><circle cx="106.59" cy="91.4" r="1.35"/><circle cx="105.42" cy="93.54" r="1.35"/><circle cx="105.96" cy="96" r="1.35"/><circle cx="105.37" cy="97.73" r="1.35"/><circle cx="104.42" cy="99.46" r="1.35"/><circle cx="103.22" cy="101.12" r="1.35"/><circle cx="103.03" cy="102.59" r="1.35"/><circle cx="103.39" cy="105.74" r="1.35"/><circle cx="102.76" cy="106.84" r="1.35"/><circle cx="100.37" cy="107.21" r="1.35"/><circle cx="98.16" cy="107.98" r="1.35"/><circle cx="97.26" cy="109.9" r="1.35"/><circle cx="97.04" cy="110.81" r="1.35"/><circle cx="96.75" cy="112.48" r="1.35"/><circle cx="96.67" cy="113.94" r="1.35"/><circle cx="97.08" cy="115.27" r="1.35"/><circle cx="97.18" cy="116.69" r="1.35"/><circle cx="98.18" cy="117.6" r="1.35"/><circle cx="98.78" cy="119.33" r="1.35"/><circle cx="98.93" cy="120.62" r="1.35"/><circle cx="98.95" cy="122.95" r="1.35"/><circle cx="99.35" cy="125.7" r="1.35"/><circle cx="99.58" cy="127.03" r="1.35"/><circle cx="100.85" cy="128.18" r="1.35"/><circle cx="102.08" cy="129.85" r="1.35"/><circle cx="103.51" cy="130.94" r="1.35"/><circle cx="104.61" cy="132.19" r="1.35"/><circle cx="107.65" cy="133.2" r="1.35"/><circle cx="107.75" cy="134.96" r="1.35"/><circle cx="109.76" cy="136.29" r="1.35"/><circle cx="110.18" cy="138.42" r="1.35"/><circle cx="109.05" cy="81.01" r="1.35"/><circle cx="109.43" cy="83.55" r="1.35"/><circle cx="109.96" cy="85.32" r="1.35"/><circle cx="110.76" cy="87.76" r="1.35"/><circle cx="111.11" cy="89.25" r="1.35"/><circle cx="111.51" cy="91.74" r="1.35"/><circle cx="112.95" cy="93.41" r="1.35"/><circle cx="112.57" cy="95.44" r="1.35"/><circle cx="113.23" cy="97.56" r="1.35"/><circle cx="113.31" cy="99.83" r="1.35"/><circle cx="113.95" cy="101.41" r="1.35"/><circle cx="114.63" cy="102.55" r="1.35"/><circle cx="115.01" cy="105.73" r="1.35"/><circle cx="115.51" cy="106.93" r="1.35"/><circle cx="117.02" cy="107.42" r="1.35"/><circle cx="118.79" cy="108.3" r="1.35"/><circle cx="120.14" cy="109.87" r="1.35"/><circle cx="120.71" cy="111.14" r="1.35"/><circle cx="121.41" cy="112.15" r="1.35"/><circle cx="122.31" cy="113.49" r="1.35"/><circle cx="120.79" cy="115.21" r="1.35"/><circle cx="120.89" cy="116.13" r="1.35"/><circle cx="119.9" cy="117.59" r="1.35"/><circle cx="118.72" cy="119.11" r="1.35"/><circle cx="118.61" cy="120.75" r="1.35"/><circle cx="119.46" cy="122.6" r="1.35"/><circle cx="119.42" cy="125.47" r="1.35"/><circle cx="119.38" cy="126.94" r="1.35"/><circle cx="117.25" cy="127.65" r="1.35"/><circle cx="115.03" cy="128.32" r="1.35"/><circle cx="115.14" cy="129.44" r="1.35"/><circle cx="115.63" cy="132.19" r="1.35"/><circle cx="113" cy="132.82" r="1.35"/><circle cx="111.04" cy="133.18" r="1.35"/><circle cx="110.09" cy="135.04" r="1.35"/><circle cx="110.76" cy="136.19" r="1.35"/><circle cx="110.58" cy="138.16" r="1.35"/><circle cx="108.65" cy="82.05" r="1.35"/><circle cx="110.15" cy="137.25" r="1.35"/><circle cx="109.4" cy="51.6" r="1.35"/><circle cx="108.8" cy="74.2" r="1.35"/><circle cx="109.5" cy="75.6" r="1.35"/><circle cx="109" cy="82.4" r="1.35"/></g>
<g fill="#c8c8c8" opacity="0.7"><circle cx="107.28" cy="114.88" r="0.55"/><circle cx="101.06" cy="112.51" r="0.55"/><circle cx="107.52" cy="92.95" r="0.55"/><circle cx="109.26" cy="116.31" r="0.55"/><circle cx="113.97" cy="131.05" r="0.55"/><circle cx="108.9" cy="96.46" r="0.55"/><circle cx="109.61" cy="97.36" r="0.55"/><circle cx="115.38" cy="115.77" r="0.55"/><circle cx="104.58" cy="119.98" r="0.55"/><circle cx="109.5" cy="105.85" r="0.55"/><circle cx="105.75" cy="105.15" r="0.55"/><circle cx="104.38" cy="120.68" r="0.55"/><circle cx="108.43" cy="89.92" r="0.55"/><circle cx="107.91" cy="96.41" r="0.55"/><circle cx="108.16" cy="110.67" r="0.55"/><circle cx="109.88" cy="100.27" r="0.55"/><circle cx="110.76" cy="95.47" r="0.55"/><circle cx="111.56" cy="132.48" r="0.55"/><circle cx="109.31" cy="106.38" r="0.55"/><circle cx="99.07" cy="113.65" r="0.55"/><circle cx="109.52" cy="105.61" r="0.55"/><circle cx="107.28" cy="93.93" r="0.55"/><circle cx="107.06" cy="124.57" r="0.55"/><circle cx="117.77" cy="110.6" r="0.55"/><circle cx="104.47" cy="115.1" r="0.55"/><circle cx="104.66" cy="103.35" r="0.55"/><circle cx="101.62" cy="118.79" r="0.55"/><circle cx="111.21" cy="100.08" r="0.55"/><circle cx="99.77" cy="118.16" r="0.55"/><circle cx="107.84" cy="107.26" r="0.55"/><circle cx="103.08" cy="108.95" r="0.55"/><circle cx="99.66" cy="114.03" r="0.55"/><circle cx="108.25" cy="99.02" r="0.55"/><circle cx="105.61" cy="131.11" r="0.55"/><circle cx="103.71" cy="122.22" r="0.55"/><circle cx="106.8" cy="113.18" r="0.55"/><circle cx="112.79" cy="107.84" r="0.55"/><circle cx="105.74" cy="104.48" r="0.55"/><circle cx="108.14" cy="91" r="0.55"/><circle cx="111.64" cy="126.91" r="0.55"/><circle cx="111.69" cy="132.31" r="0.55"/><circle cx="114.25" cy="117.5" r="0.55"/><circle cx="108.73" cy="120.67" r="0.55"/><circle cx="108.38" cy="102.63" r="0.55"/><circle cx="105.32" cy="124.38" r="0.55"/><circle cx="108.47" cy="110.95" r="0.55"/><circle cx="112.54" cy="132.07" r="0.55"/><circle cx="112.48" cy="130.95" r="0.55"/><circle cx="107.25" cy="99.63" r="0.55"/><circle cx="104.03" cy="109.1" r="0.55"/><circle cx="110.93" cy="106.08" r="0.55"/><circle cx="109.84" cy="130.29" r="0.55"/><circle cx="102.37" cy="125.32" r="0.55"/><circle cx="113.05" cy="102.55" r="0.55"/><circle cx="108.76" cy="92.22" r="0.55"/><circle cx="109.52" cy="89.25" r="0.55"/><circle cx="101.47" cy="116.95" r="0.55"/><circle cx="107.26" cy="99.61" r="0.55"/><circle cx="112.19" cy="118.07" r="0.55"/><circle cx="109.41" cy="106.64" r="0.55"/><circle cx="109.02" cy="90.53" r="0.55"/><circle cx="112.06" cy="131.83" r="0.55"/><circle cx="108.98" cy="89.74" r="0.55"/><circle cx="104.62" cy="120.27" r="0.55"/><circle cx="107.89" cy="129.12" r="0.55"/><circle cx="107.12" cy="119.67" r="0.55"/><circle cx="110.68" cy="123.59" r="0.55"/><circle cx="108.83" cy="92.14" r="0.55"/></g>
<path d="M50.4 126.5H53.1" stroke="#ff2a2a" stroke-width="1" fill="none"/>
<path d="M77.8 126.5H80.2" stroke="#ff2a2a" stroke-width="1" fill="none"/>
<path d="M58 116.4H60.4" stroke="#ff2a2a" stroke-width="1" fill="none"/>
<path d="M69.6 116.4H72.9" stroke="#ff2a2a" stroke-width="1" fill="none"/>
<path d="M94.0 113.7H95.9" stroke="#ff2a2a" stroke-width="1" fill="none"/>
<path d="M121.8 113.7H124.2" stroke="#ff2a2a" stroke-width="1" fill="none"/>
<path d="M101.6 99.6H103.6" stroke="#ff2a2a" stroke-width="1" fill="none"/>
<path d="M113.9 99.6H116.7" stroke="#ff2a2a" stroke-width="1" fill="none"/></svg>
</body></html>
